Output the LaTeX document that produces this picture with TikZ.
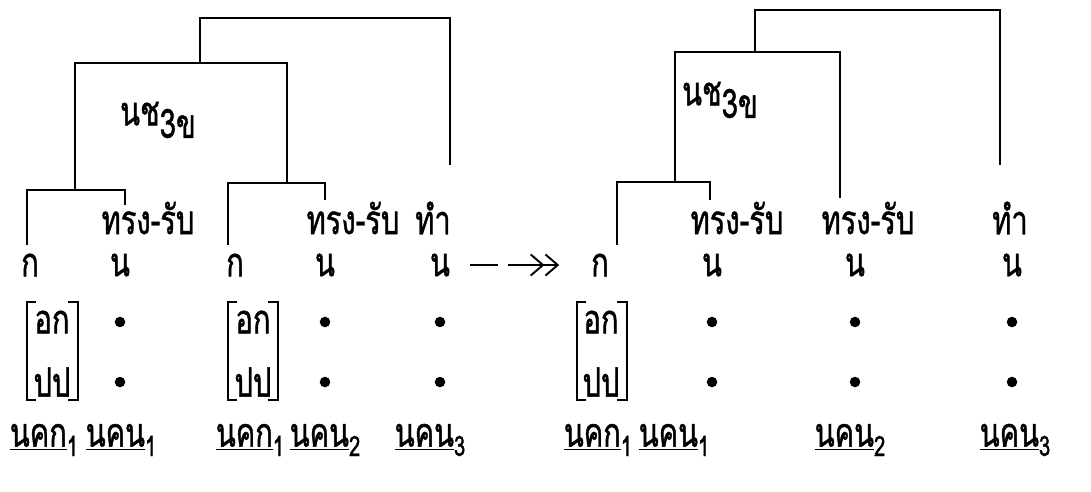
\documentclass[tikz,border=0pt]{standalone}
\usepackage{fontspec}
\newfontfamily\thaifont[Script=Thai, FakeStretch=0.72, FakeBold=1]{Loma}
\usetikzlibrary{arrows.meta}
\newcommand{\lowsub}[1]{\raisebox{-0.45ex}{\fontsize{16}{16}\selectfont #1}}
\newcommand{\uthai}[1]{\underline{\smash{#1}\vphantom{ก}}}
\begin{document}
\begin{tikzpicture}[x=0.02cm,y=-0.02cm,
  every node/.style={font=\thaifont\fontsize{23}{26}\selectfont, inner sep=0pt},
  br/.style={line width=1.1pt},
  dotmark/.style={circle, fill=black, minimum size=6pt, inner sep=0pt},
  boxline/.style={line width=1.1pt}]
\useasboundingbox (0,0) rectangle (1091,491);

% ---------- LEFT TREE ----------
\node (lt1) at (148,218) {ทรง-รับ};
\node (lt2) at (353,218) {ทรง-รับ};
\node (lt3) at (433,218) {ทำ};
\node (lk1) at (30,265) {ก};
\node (ln1) at (120,265) {น};
\node (lk2) at (235,265) {ก};
\node (ln2) at (325,265) {น};
\node (ln3) at (440,265) {น};
\node (lns) at (158,120) {นช\raisebox{-0.6ex}{3ข}};

\coordinate (a1) at (27,245);  \coordinate (a2) at (125,205);
\coordinate (b1) at (228,245); \coordinate (b2) at (325,200);
\coordinate (c1) at (75,190);  \coordinate (c2) at (287,183);
\coordinate (d1) at (200,63);  \coordinate (d2) at (450,165);
\draw[br] (a1) -- (27,190) -- (125,190) -- (a2);
\draw[br] (b1) -- (228,183) -- (325,183) -- (b2);
\draw[br] (c1) -- (75,63) -- (287,63) -- (c2);
\draw[br] (d1) -- (200,18) -- (450,18) -- (d2);

\node (lo1) at (52,322) {อก};
\node (lp1) at (52,382) {ปป};
\node (lo2) at (253,322) {อก};
\node (lp2) at (253,382) {ปป};
\draw[boxline] (36,302) -- (27,302) -- (27,400) -- (36,400);
\draw[boxline] (68,302) -- (78,302) -- (78,400) -- (68,400);
\draw[boxline] (237,302) -- (228,302) -- (228,400) -- (237,400);
\draw[boxline] (268,302) -- (278,302) -- (278,400) -- (268,400);

\node[dotmark] (ld1) at (120,322) {};
\node[dotmark] (ld2) at (120,382) {};
\node[dotmark] (ld3) at (325,322) {};
\node[dotmark] (ld4) at (325,382) {};
\node[dotmark] (ld5) at (440,322) {};
\node[dotmark] (ld6) at (440,382) {};

\node (lb1) at (44,440) {\uthai{นคก}\lowsub{1}};
\node (lb2) at (121,440) {\uthai{นคน}\lowsub{1}};
\node (lb3) at (250,440) {\uthai{นคก}\lowsub{1}};
\node (lb4) at (325,440) {\uthai{นคน}\lowsub{2}};
\node (lb5) at (430,440) {\uthai{นคน}\lowsub{3}};

% ---------- ARROW ----------
\coordinate (ar0) at (470,265);
\coordinate (ar1) at (498,265);
\coordinate (ar2) at (508,265);
\node (rk1) at (600,265) {ก};
\draw[br] (ar0) -- (ar1);
\draw[br, -{Straight Barb[length=7pt,width=12pt]Straight Barb[length=7pt,width=12pt]}] (ar2) -- ([xshift=-18pt]rk1.west);

% ---------- RIGHT TREE ----------
\node (rt1) at (737,218) {ทรง-รับ};
\node (rt2) at (868,218) {ทรง-รับ};
\node (rt3) at (1010,218) {ทำ};
\node (rn1) at (712,265) {น};
\node (rn2) at (855,265) {น};
\node (rn3) at (1012,265) {น};
\node (rns) at (720,100) {นช\raisebox{-0.6ex}{3ข}};

\coordinate (e1) at (617,245); \coordinate (e2) at (710,200);
\coordinate (f1) at (675,182); \coordinate (f2) at (840,198);
\coordinate (g1) at (755,52);  \coordinate (g2) at (1000,165);
\draw[br] (e1) -- (617,182) -- (710,182) -- (e2);
\draw[br] (f1) -- (675,52) -- (840,52) -- (f2);
\draw[br] (g1) -- (755,10) -- (1000,10) -- (g2);

\node (ro1) at (601,322) {อก};
\node (rp1) at (601,382) {ปป};
\draw[boxline] (586,302) -- (577,302) -- (577,400) -- (586,400);
\draw[boxline] (617,302) -- (627,302) -- (627,400) -- (617,400);

\node[dotmark] (rd1) at (712,322) {};
\node[dotmark] (rd2) at (712,382) {};
\node[dotmark] (rd3) at (855,322) {};
\node[dotmark] (rd4) at (855,382) {};
\node[dotmark] (rd5) at (1012,322) {};
\node[dotmark] (rd6) at (1012,382) {};

\node (rb1) at (598,440) {\uthai{นคก}\lowsub{1}};
\node (rb2) at (674,440) {\uthai{นคน}\lowsub{1}};
\node (rb3) at (850,440) {\uthai{นคน}\lowsub{2}};
\node (rb4) at (1015,440) {\uthai{นคน}\lowsub{3}};
\end{tikzpicture}
\end{document}
